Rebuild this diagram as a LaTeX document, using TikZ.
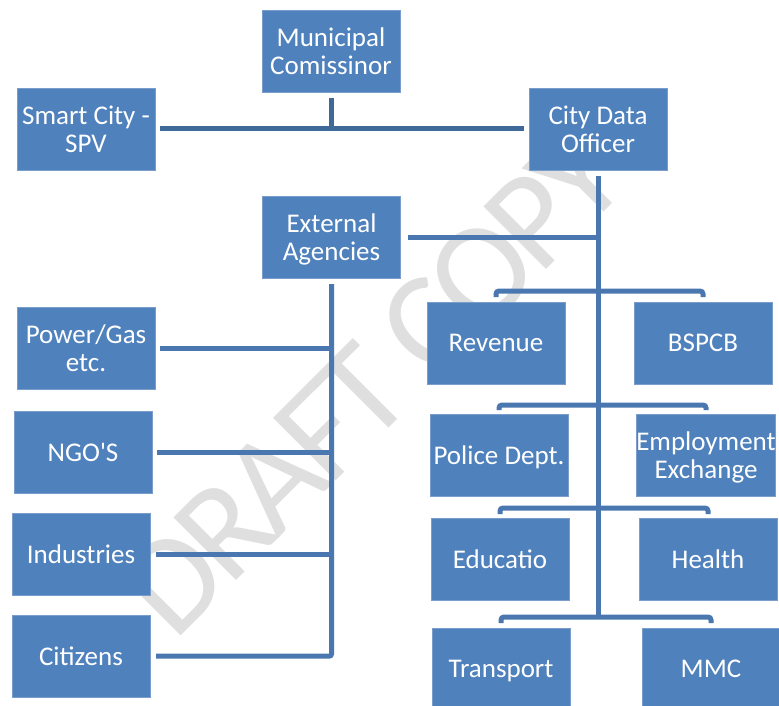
\documentclass[tikz,border=0pt]{standalone}
\usepackage{fontspec}
\setmainfont{Carlito}
\newfontfamily\markfont{Carlito}[LetterSpace=-5]
\definecolor{boxblue}{HTML}{4F81BD}
\definecolor{boxedge}{HTML}{7A9DCB}
\definecolor{lineblue}{HTML}{4A77B0}
\definecolor{linedark}{HTML}{3F6999}
\definecolor{wmgray}{HTML}{DFDFDF}
% straight apostrophe, taken directly from the font
\newcommand{\straightquote}{{\XeTeXglyph\XeTeXcharglyph"27\relax}}
\begin{document}
\begin{tikzpicture}[x=1pt,y=-1pt,
  box/.style={rectangle, fill=boxblue, draw=boxedge, line width=0.8pt,
    minimum width=138pt, minimum height=82pt, inner sep=0pt, outer sep=0pt,
    text=white, align=center, font=\fontsize{27}{28}\selectfont, text depth=0pt},
  conn/.style={draw=lineblue, line width=5pt},
  topconn/.style={draw=linedark, line width=5pt},
  bracket/.style={conn, rounded corners=3pt}]

\path[use as bounding box, fill=white] (0,0) rectangle (779,706);

% watermark behind everything
\node[rotate=45, text=wmgray, font=\markfont\fontsize{138}{138}\selectfont] (wm) at (372,382) {DRAFT COPY};

% top level
\node[box] (mc)  at (331,51.5) {Municipal\\Comissinor};
\node[box] (spv) at (86,129)   {Smart City -\\SPV};
\node[box] (cdo) at (598,129)  {City Data\\Officer};
\node[box] (ext) at (331.5,237) {External\\Agencies};

% external agencies
\node[box] (pg)  at (86,348.5) {Power/Gas\\etc.};
\node[box] (ngo) at (83,452.5) {NGO\straightquote S};
\node[box] (ind) at (81,554)   {Industries};
\node[box] (cit) at (81,656)   {Citizens};

% departments
\node[box] (rev) at (496,343) {Revenue};
\node[box] (bsp) at (703,343) {BSPCB};
\node[box] (pol) at (499,455) {Police Dept.};
\node[box] (emp) at (706,455) {Employment\\Exchange};
\node[box] (edu) at (500,559) {Educatio};
\node[box] (hea) at (708,559) {Health};
\node[box] (tra) at (501,669) {Transport};
\node[box] (mmc) at (711,669) {MMC};

% top connectors
\draw[topconn] ([xshift=5pt]spv.east) -- ([xshift=-5pt]cdo.west);
\draw[topconn] ([yshift=-6pt]mc.south) -- (mc.south |- spv.east);

% city data officer spine
\coordinate (spinebot) at (598,617);
\draw[conn] ([yshift=-6pt]cdo.south) -- (spinebot);
\draw[conn] ([xshift=7pt]ext.east) -- (cdo.south |- ext.east);

% department brackets
\draw[bracket] ([yshift=5pt]rev.north) -- ([yshift=11pt]rev.north) -| ([yshift=5pt]bsp.north);
\draw[bracket] ([yshift=4pt]pol.north) -- ([yshift=9pt]pol.north) -| ([yshift=4pt]emp.north);
\draw[bracket] ([yshift=4pt]edu.north) -- ([yshift=10pt]edu.north) -| ([yshift=4pt]hea.north);
\draw[bracket] ([yshift=5pt]tra.north) -- ([yshift=11pt]tra.north) -| ([yshift=5pt]mmc.north);

% external agencies tree
\draw[conn, rounded corners=2pt] ([yshift=-6pt]ext.south) |- ([xshift=6pt]cit.east);
\draw[conn] ([xshift=5pt]pg.east) -- (ext.south |- pg.east);
\draw[conn] ([xshift=5pt]ngo.east) -- (ext.south |- ngo.east);
\draw[conn] ([xshift=6pt]ind.east) -- (ext.south |- ind.east);
\end{tikzpicture}
\end{document}
